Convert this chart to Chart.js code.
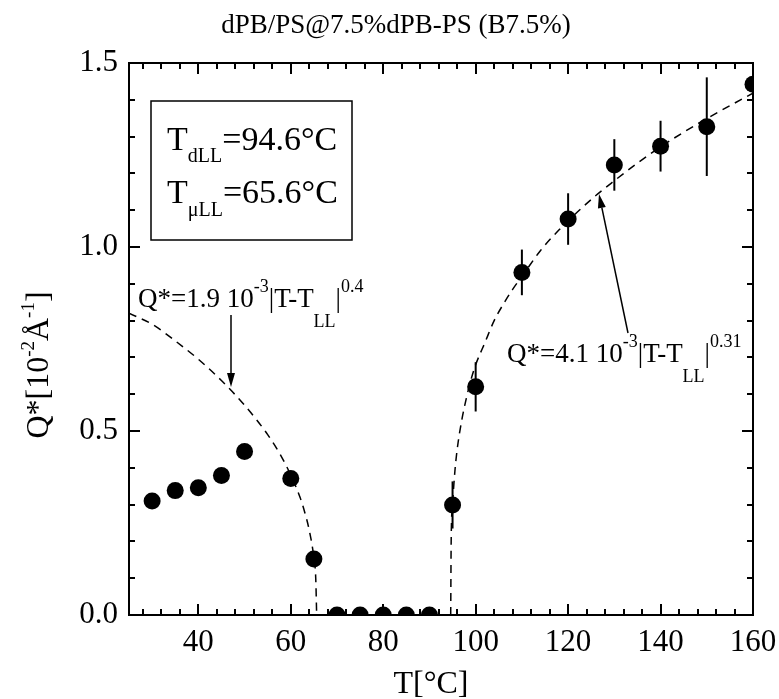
<!DOCTYPE html>
<html>
<head>
<meta charset="utf-8">
<script src="https://cdn.jsdelivr.net/npm/chart.js@4.4.1/dist/chart.umd.min.js"></script>
<style>
    html, body { margin: 0; padding: 0; background: #fff; }
    #wrap { width: 779px; height: 699px; }
</style>
</head>
<body>
<div id="wrap"><canvas id="myChart" width="779" height="699"></canvas></div>
<script>
// measured points
const tempC = [30, 35, 40, 45, 50, 60, 65, 70, 75, 80, 85, 90, 95, 100, 110, 120, 130, 140, 150, 160];
const qStar = [0.31, 0.338, 0.346, 0.379, 0.444, 0.371, 0.152, 0, 0, 0, 0, 0, 0.299, 0.62, 0.931, 1.076, 1.223, 1.274, 1.327, 1.442];
const qErr = [0, 0, 0, 0, 0, 0, 0, 0, 0, 0, 0, 0, 0.064, 0.067, 0.062, 0.07, 0.07, 0.069, 0.134, 0];

// dashed fit curves
const fitLowT = [25, 30, 35, 40, 45, 50, 55, 58, 60, 62, 63, 64, 65, 65.4, 65.6];
const fitLowQ = [0.82, 0.79, 0.745, 0.695, 0.637, 0.57, 0.49, 0.43, 0.38, 0.32, 0.28, 0.23, 0.155, 0.1, 0];
const fitHighT = [94.6, 94.7, 95, 95.5, 96, 97, 98, 99, 100, 102, 104, 106, 108, 110, 114, 118, 122, 126, 130, 135, 140, 145, 150, 155, 160];
const fitHighQ = [0, 0.2, 0.3, 0.39, 0.45, 0.53, 0.59, 0.64, 0.68, 0.74, 0.8, 0.845, 0.885, 0.92, 0.99, 1.046, 1.095, 1.14, 1.18, 1.228, 1.272, 1.312, 1.349, 1.384, 1.418];

const xTicks = [40, 60, 80, 100, 120, 140, 160];
const yTicks = [0, 0.5, 1.0, 1.5];
const yTickLabels = ['0.0', '0.5', '1.0', '1.5'];

const serif = '"Liberation Serif", "Times New Roman", serif';

const toPoints = (xs, ys) => xs.map((x, i) => ({ x: x, y: ys[i] }));

function drawRich(ctx, parts, x, y) {
    let cx = x;
    parts.forEach(p => {
        ctx.font = p.size + 'px ' + serif;
        ctx.fillText(p.t, cx, y + (p.dy || 0));
        cx += ctx.measureText(p.t).width;
    });
    return cx - x;
}

function richWidth(ctx, parts) {
    let w = 0;
    parts.forEach(p => {
        ctx.font = p.size + 'px ' + serif;
        w += ctx.measureText(p.t).width;
    });
    return w;
}

function arrow(ctx, x1, y1, x2, y2) {
    const a = Math.atan2(y2 - y1, x2 - x1);
    const len = 14, half = 4;
    ctx.beginPath();
    ctx.moveTo(x1, y1);
    ctx.lineTo(x2 - len * Math.cos(a), y2 - len * Math.sin(a));
    ctx.stroke();
    ctx.beginPath();
    ctx.moveTo(x2, y2);
    ctx.lineTo(x2 - len * Math.cos(a) + half * Math.sin(a), y2 - len * Math.sin(a) - half * Math.cos(a));
    ctx.lineTo(x2 - len * Math.cos(a) - half * Math.sin(a), y2 - len * Math.sin(a) + half * Math.cos(a));
    ctx.closePath();
    ctx.fill();
}

const errorBars = {
    id: 'errorBars',
    beforeDatasetsDraw(chart) {
        const ctx = chart.ctx;
        const x = chart.scales.x, y = chart.scales.y;
        const area = chart.chartArea;
        ctx.save();
        ctx.beginPath();
        ctx.rect(area.left, area.top, area.right - area.left, area.bottom - area.top);
        ctx.clip();
        ctx.strokeStyle = '#000';
        ctx.lineWidth = 2;
        tempC.forEach((t, i) => {
            if (!qErr[i]) return;
            const px = x.getPixelForValue(t);
            ctx.beginPath();
            ctx.moveTo(px, y.getPixelForValue(qStar[i] - qErr[i]));
            ctx.lineTo(px, y.getPixelForValue(qStar[i] + qErr[i]));
            ctx.stroke();
        });
        ctx.restore();
    }
};

const decor = {
    id: 'decor',
    afterDraw(chart) {
        const ctx = chart.ctx;
        const x = chart.scales.x, y = chart.scales.y;
        const a = chart.chartArea;
        ctx.save();
        ctx.strokeStyle = '#000';
        ctx.fillStyle = '#000';

        // frame
        ctx.lineWidth = 2;
        ctx.strokeRect(a.left, a.top, a.right - a.left, a.bottom - a.top);

        // inward ticks on all four sides
        const major = 11, minor = 6;
        ctx.beginPath();
        for (let v = 28; v <= 160; v += 4) {
            const len = xTicks.includes(v) ? major : minor;
            const px = Math.round(x.getPixelForValue(v));
            ctx.moveTo(px, a.bottom); ctx.lineTo(px, a.bottom - len);
            ctx.moveTo(px, a.top); ctx.lineTo(px, a.top + len);
        }
        for (let k = 1; k < 15; k++) {
            const len = k % 5 === 0 ? major : minor;
            const py = Math.round(y.getPixelForValue(k / 10));
            ctx.moveTo(a.left, py); ctx.lineTo(a.left + len, py);
            ctx.moveTo(a.right, py); ctx.lineTo(a.right - len, py);
        }
        ctx.stroke();

        // title
        ctx.textBaseline = 'alphabetic';
        ctx.textAlign = 'center';
        ctx.font = '27px ' + serif;
        ctx.fillText('dPB/PS@7.5%dPB-PS (B7.5%)', 396, 33);

        // x axis title
        ctx.font = '32px ' + serif;
        ctx.fillText('T[°C]', 431, 693);

        // y axis title
        ctx.textAlign = 'left';
        const yTitle = [
            { t: 'Q*[10', size: 32 },
            { t: '-2', size: 19, dy: -14 },
            { t: 'Å', size: 32 },
            { t: '-1', size: 19, dy: -14 },
            { t: ']', size: 32 }
        ];
        ctx.save();
        ctx.translate(48, 365);
        ctx.rotate(-Math.PI / 2);
        drawRich(ctx, yTitle, -richWidth(ctx, yTitle) / 2, 0);
        ctx.restore();

        // box with transition temperatures
        ctx.lineWidth = 1.5;
        ctx.strokeRect(151, 101, 201, 139);
        drawRich(ctx, [
            { t: 'T', size: 34 },
            { t: 'dLL', size: 20, dy: 12 },
            { t: '=94.6°C', size: 34 }
        ], 167, 150);
        drawRich(ctx, [
            { t: 'T', size: 34 },
            { t: 'μLL', size: 20, dy: 13 },
            { t: '=65.6°C', size: 34 }
        ], 167, 203);

        // fit formulas
        drawRich(ctx, [
            { t: 'Q*=1.9 10', size: 27 },
            { t: '-3', size: 18, dy: -15 },
            { t: '|T-T', size: 27 },
            { t: 'LL', size: 18, dy: 20 },
            { t: '|', size: 27 },
            { t: '0.4', size: 18, dy: -15 }
        ], 138, 307);
        drawRich(ctx, [
            { t: 'Q*=4.1 10', size: 27 },
            { t: '-3', size: 18, dy: -15 },
            { t: '|T-T', size: 27 },
            { t: 'LL', size: 18, dy: 20 },
            { t: '|', size: 27 },
            { t: '0.31', size: 18, dy: -15 }
        ], 507, 362);

        // arrows to the curves
        ctx.lineWidth = 1.5;
        arrow(ctx, 231, 315, 231, 387);
        arrow(ctx, 628, 333, 599, 194);
        ctx.restore();
    }
};

const ctx = document.getElementById('myChart');
const myChart = new Chart(ctx, {
    type: 'scatter',
    data: {
        datasets: [
            {
                label: 'Q*',
                data: toPoints(tempC, qStar),
                backgroundColor: '#000',
                borderColor: '#000',
                borderWidth: 0,
                pointRadius: 8.5,
                pointHoverRadius: 8.5,
                clip: 0,
                order: 0
            },
            {
                label: 'fit T < TLL',
                data: toPoints(fitLowT, fitLowQ),
                showLine: true,
                borderColor: '#000',
                borderWidth: 1.5,
                borderDash: [8, 6],
                pointRadius: 0,
                cubicInterpolationMode: 'monotone',
                clip: 0,
                order: 1
            },
            {
                label: 'fit T > TLL',
                data: toPoints(fitHighT, fitHighQ),
                showLine: true,
                borderColor: '#000',
                borderWidth: 1.5,
                borderDash: [8, 6],
                pointRadius: 0,
                cubicInterpolationMode: 'monotone',
                clip: 0,
                order: 1
            }
        ]
    },
    options: {
        responsive: false,
        animation: false,
        events: [],
        layout: { padding: { top: 63, right: 26, left: 0, bottom: 0 } },
        plugins: {
            legend: { display: false },
            tooltip: { enabled: false },
            title: { display: false }
        },
        scales: {
            x: {
                type: 'linear',
                min: 25,
                max: 160,
                grid: { display: false, drawTicks: false },
                border: { display: false },
                afterBuildTicks: scale => { scale.ticks = xTicks.map(v => ({ value: v })); },
                afterFit: scale => {
                    scale.height = 84;
                    scale.paddingLeft = 0;
                    scale.paddingRight = 0;
                },
                ticks: {
                    font: { family: serif, size: 31 },
                    color: '#000',
                    padding: 9,
                    maxRotation: 0,
                    callback: value => String(value)
                }
            },
            y: {
                type: 'linear',
                min: 0,
                max: 1.5,
                grid: { display: false, drawTicks: false },
                border: { display: false },
                afterBuildTicks: scale => { scale.ticks = yTicks.map(v => ({ value: v })); },
                afterFit: scale => {
                    scale.width = 129;
                    scale.paddingTop = 0;
                    scale.paddingBottom = 0;
                },
                ticks: {
                    font: { family: serif, size: 31 },
                    color: '#000',
                    padding: 11,
                    callback: (value, index) => yTickLabels[index]
                }
            }
        }
    },
    plugins: [errorBars, decor]
});
</script>
</body>
</html>
